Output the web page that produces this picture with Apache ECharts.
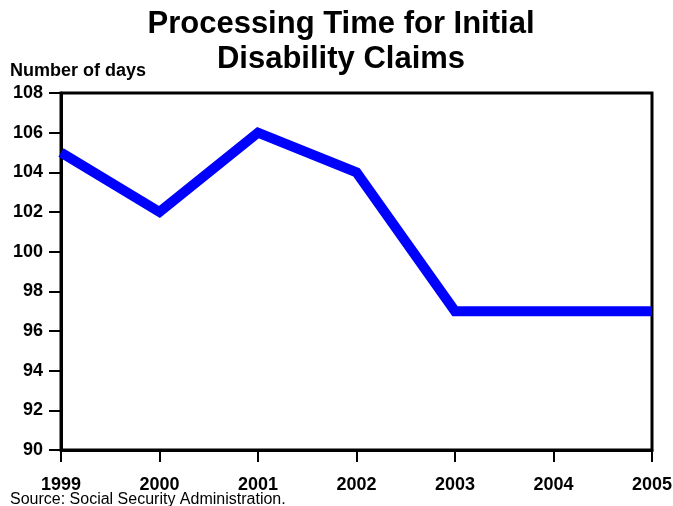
<!DOCTYPE html>
<html>
<head>
<meta charset="utf-8">
<script src="https://cdn.jsdelivr.net/npm/echarts@6/dist/echarts.min.js"></script>
<style>
  html, body {margin: 0; padding: 0; background: #fff;}
  #main {width: 673px; height: 506px;}
</style>
</head>
<body>
<div id="main"></div>
<script>
const years = ['1999', '2000', '2001', '2002', '2003', '2004', '2005'];
const days = [105, 102, 106, 104, 97, 97, 97];
const yMin = 90;
const yMax = 108;
const yStep = 2;

const font = '"Liberation Sans", Arial, sans-serif';
const chart = echarts.init(document.getElementById('main'));
chart.setOption({
    animation: false,
    backgroundColor: '#fff',
    title: {
        text: 'Processing Time for Initial\nDisability Claims',
        left: 336,
        textAlign: 'center',
        top: 2,
        textStyle: {fontFamily: font, fontSize: 31, fontWeight: 'bold', color: '#000', lineHeight: 35}
    },
    graphic: [
        {type: 'text', left: 10, top: 62, style: {text: 'Number of days', font: 'bold 18px ' + font, fill: '#000'}},
        {type: 'text', left: 10, top: 492, style: {text: 'Source: Social Security Administration.', font: '16px ' + font, fill: '#000'}}
    ],
    grid: {left: 61, right: 21, top: 93, bottom: 56, outerBoundsMode: 'none', show: true, borderColor: '#000', borderWidth: 3},
    xAxis: {
        type: 'category',
        data: years,
        boundaryGap: false,
        axisLine: {lineStyle: {color: '#000', width: 3}},
        axisTick: {show: true, length: 12, lineStyle: {color: '#000', width: 2}},
        axisLabel: {color: '#000', fontFamily: font, fontSize: 18, fontWeight: 'bold', margin: 26},
        splitLine: {show: false}
    },
    yAxis: {
        type: 'value',
        min: yMin,
        max: yMax,
        interval: yStep,
        axisLine: {show: true, lineStyle: {color: '#000', width: 3}},
        axisTick: {show: true, length: 12, lineStyle: {color: '#000', width: 2}},
        axisLabel: {color: '#000', fontFamily: font, fontSize: 18, fontWeight: 'bold', margin: 18},
        splitLine: {show: false}
    },
    series: [{
        type: 'line',
        data: days,
        symbol: 'none',
        lineStyle: {color: '#0000FF', width: 10, join: 'miter'}
    }]
});
</script>
</body>
</html>
